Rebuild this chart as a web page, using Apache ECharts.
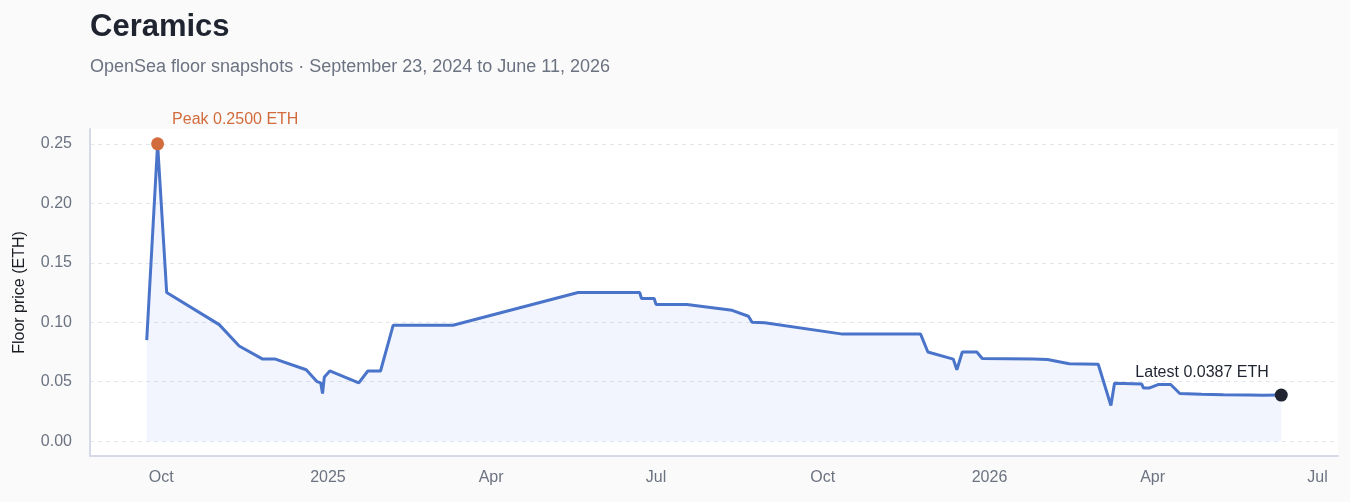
<!DOCTYPE html>
<html>
<head>
<meta charset="utf-8">
<script src="https://cdn.jsdelivr.net/npm/echarts@6/dist/echarts.min.js"></script>
<style>
  html, body { margin: 0; padding: 0; background: #fafafa; }
  #chart { width: 1350px; height: 502px; }
</style>
</head>
<body>
<div id="chart"></div>
<script>
// ---- Data ----
const titleText = 'Ceramics';
const subtitleText = 'OpenSea floor snapshots \u00b7 September 23, 2024 to June 11, 2026';
const yAxisName = 'Floor price (ETH)';

const dates = [
  '2024-09-23', '2024-09-29', '2024-10-04', '2024-11-02', '2024-11-13',
  '2024-11-26', '2024-12-03', '2024-12-20', '2024-12-26', '2024-12-28',
  '2024-12-29', '2024-12-30', '2025-01-02', '2025-01-18', '2025-01-23',
  '2025-01-30', '2025-02-06', '2025-03-11', '2025-05-19', '2025-06-22',
  '2025-06-23', '2025-06-30', '2025-07-01', '2025-07-18', '2025-08-12',
  '2025-08-21', '2025-08-23', '2025-08-30', '2025-10-12', '2025-11-24',
  '2025-11-28', '2025-12-12', '2025-12-14', '2025-12-17', '2025-12-25',
  '2025-12-28', '2026-01-25', '2026-02-02', '2026-02-14', '2026-03-02',
  '2026-03-09', '2026-03-11', '2026-03-26', '2026-03-27', '2026-03-30',
  '2026-04-04', '2026-04-11', '2026-04-16', '2026-04-28', '2026-05-10',
  '2026-05-24', '2026-06-01', '2026-06-11'
];
const prices = [
  0.085, 0.25, 0.125, 0.098, 0.080,
  0.069, 0.069, 0.060, 0.050, 0.049,
  0.040, 0.054, 0.059, 0.049, 0.059,
  0.059, 0.0975, 0.0975, 0.125, 0.125,
  0.120, 0.120, 0.115, 0.115, 0.110,
  0.105, 0.100, 0.0995, 0.090, 0.090,
  0.075, 0.069, 0.060, 0.075, 0.075,
  0.0695, 0.069, 0.0686, 0.065, 0.0647,
  0.030, 0.0486, 0.048, 0.0446, 0.0446,
  0.0476, 0.0476, 0.0401, 0.0395, 0.0390,
  0.0389, 0.0386, 0.0387
];

const yTicks = [0, 0.05, 0.10, 0.15, 0.20, 0.25];
const xTickDates = ['2024-10-01', '2025-01-01', '2025-04-01', '2025-07-01', '2025-10-01', '2026-01-01', '2026-04-01', '2026-07-01'];
const xTickLabels = ['Oct', '2025', 'Apr', 'Jul', 'Oct', '2026', 'Apr', 'Jul'];

// ---- Build ----
const FONT = '"Liberation Sans", Arial, Helvetica, sans-serif';
const chart = echarts.init(document.getElementById('chart'), null, { renderer: 'canvas' });

const toTs = s => { const p = s.split('-').map(Number); return Date.UTC(p[0], p[1] - 1, p[2]); };
const seriesData = dates.map((d, i) => [toTs(d), prices[i]]);
const tFirst = seriesData[0][0];
const tLast = seriesData[seriesData.length - 1][0];
const xPad = (tLast - tFirst) * 0.05;
const yMax = Math.max(...yTicks);
const yPad = yMax * 0.05;

let peakIdx = 0;
prices.forEach((v, i) => { if (v > prices[peakIdx]) peakIdx = i; });
const lastIdx = prices.length - 1;
const xTickTs = xTickDates.map(toTs);

const option = {
  backgroundColor: '#fafafa',
  animation: false,
  textStyle: { fontFamily: FONT },
  title: {
    text: titleText,
    subtext: subtitleText,
    left: 90,
    top: 12,
    padding: 0,
    itemGap: 15,
    textStyle: { fontFamily: FONT, fontSize: 31, fontWeight: 'bold', color: '#1f2430' },
    subtextStyle: { fontFamily: FONT, fontSize: 18, color: '#6b7280' }
  },
  grid: {
    left: 90, right: 12, top: 129, bottom: 46,
    show: true, backgroundColor: '#ffffff', borderWidth: 0
  },
  xAxis: {
    type: 'value',
    min: tFirst - xPad,
    max: tLast + xPad,
    axisLine: { onZero: false, lineStyle: { color: '#d5d9e8', width: 2 } },
    axisTick: { show: false, customValues: xTickTs },
    splitLine: { show: false },
    axisLabel: {
      customValues: xTickTs,
      margin: 14,
      fontFamily: FONT, fontSize: 16, color: '#6b7280',
      formatter: function (val) {
        let best = 0;
        xTickTs.forEach((t, i) => { if (Math.abs(t - val) < Math.abs(xTickTs[best] - val)) best = i; });
        return xTickLabels[best];
      }
    }
  },
  yAxis: {
    type: 'value',
    min: -yPad,
    max: yMax + yPad,
    name: yAxisName,
    nameLocation: 'middle',
    nameGap: 62,
    nameTextStyle: { fontFamily: FONT, fontSize: 16, color: '#1a1d24' },
    axisLine: { show: true, onZero: false, lineStyle: { color: '#d5d9e8', width: 2 } },
    axisTick: { show: false, customValues: yTicks },
    axisLabel: {
      customValues: yTicks,
      margin: 18,
      fontFamily: FONT, fontSize: 16, color: '#6b7280',
      formatter: v => v.toFixed(2)
    },
    splitLine: { show: true, lineStyle: { color: '#e3e6ec', width: 1, type: [4, 4] } }
  },
  series: [
    {
      type: 'line',
      data: seriesData,
      showSymbol: false,
      symbol: 'none',
      lineStyle: { color: '#4a74c9', width: 3 },
      itemStyle: { color: '#4a74c9' },
      areaStyle: { color: 'rgba(70,120,240,0.1)', origin: 0 },
      z: 2
    },
    {
      type: 'scatter',
      data: [seriesData[peakIdx]],
      symbolSize: 13,
      itemStyle: { color: '#d26c3d', opacity: 1 },
      label: {
        show: true,
        position: [21, -18],
        align: 'left',
        verticalAlign: 'middle',
        fontFamily: FONT, fontSize: 16, color: '#d26c3d',
        formatter: p => 'Peak ' + p.value[1].toFixed(4) + ' ETH'
      },
      z: 5
    },
    {
      type: 'scatter',
      data: [seriesData[lastIdx]],
      symbolSize: 13,
      itemStyle: { color: '#1f2430', opacity: 1 },
      label: {
        show: true,
        position: [-6, -16],
        align: 'right',
        verticalAlign: 'middle',
        fontFamily: FONT, fontSize: 16, color: '#1f2430',
        formatter: p => 'Latest ' + p.value[1].toFixed(4) + ' ETH'
      },
      z: 5
    }
  ]
};
chart.setOption(option);
</script>
</body>
</html>
